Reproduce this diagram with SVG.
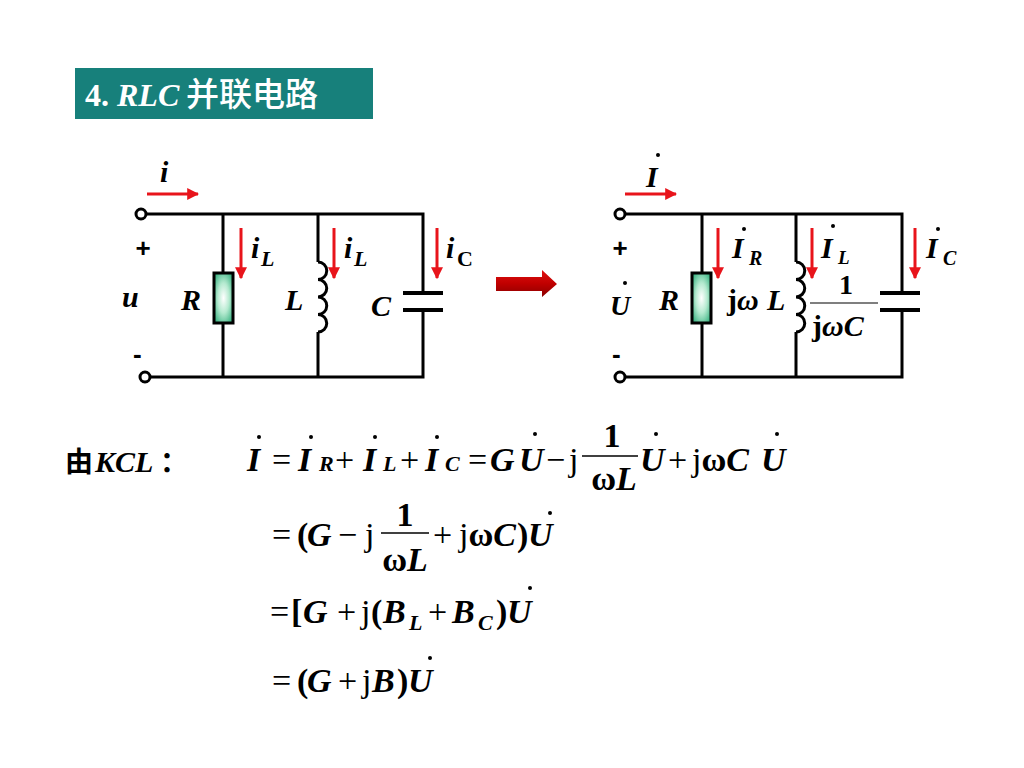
<svg xmlns="http://www.w3.org/2000/svg" width="1024" height="768" viewBox="0 0 1024 768">
<defs>
<radialGradient id="resg" cx="0.5" cy="0.5" r="0.6">
<stop offset="0" stop-color="#ffffff"/>
<stop offset="0.5" stop-color="#b5ead0"/>
<stop offset="1" stop-color="#3fb585"/>
</radialGradient>
<linearGradient id="arrg" x1="0" y1="0" x2="0" y2="1">
<stop offset="0" stop-color="#e01010"/>
<stop offset="0.5" stop-color="#c00000"/>
<stop offset="1" stop-color="#8a0000"/>
</linearGradient>
<marker id="rh" viewBox="0 0 10 10" refX="9" refY="5" markerWidth="4" markerHeight="4" orient="auto" markerUnits="strokeWidth">
<path d="M0,0 L10,5 L0,10 Z" fill="#e8141b"/>
</marker>
</defs>
<style>
.w{stroke:#000;stroke-width:3;fill:none}
.term{stroke:#000;stroke-width:3;fill:#fff}
.plate{stroke:#000;stroke-width:4}
.res{stroke:#000;stroke-width:3;fill:url(#resg)}
.ra{stroke:#e8141b;stroke-width:3;fill:none;marker-end:url(#rh)}
.v{font-family:"Liberation Serif",serif;font-weight:bold;font-style:italic}
.b{font-family:"Liberation Serif",serif;font-weight:bold}
.r{font-family:"Liberation Serif",serif;font-weight:normal}
.s{font-family:"Liberation Sans",sans-serif;font-weight:bold}
.cjk{font-family:"Noto Sans CJK SC",sans-serif}
.eq{font-size:34px}
.sub{font-size:22px}
.lab{font-size:30px}
.dot{fill:#000}
</style>
<rect width="1024" height="768" fill="#fff"/>

<g id="title">
<rect x="75" y="68" width="298" height="51" fill="#17807b"/>
<text x="85" y="106" fill="#fff" font-size="32"><tspan class="b">4.</tspan><tspan class="v" x="117">RLC</tspan><tspan class="cjk" x="186" font-size="33" font-weight="500">并联电路</tspan></text>
</g>

<g id="connectors">
<path class="w" d="M146,214 H423 V293"/>
<path class="w" d="M150,377 H423 V310"/>
<path class="w" d="M223,214 V273 M223,323 V377"/>
<path class="w" d="M318,214 V262 M318,332 V377"/>
<path class="w" d="M625,214 H902 V293"/>
<path class="w" d="M625,377 H902 V310"/>
<path class="w" d="M702,214 V273 M702,323 V377"/>
<path class="w" d="M796,214 V262 M796,332 V377"/>
</g>

<g id="left-terminals">
<circle class="term" cx="141" cy="214" r="5"/>
<circle class="term" cx="145" cy="377" r="5"/>
<text class="s" x="143" y="257" font-size="26" text-anchor="middle">+</text>
<text class="s" x="133" y="363" font-size="26">-</text>
<text class="v lab" x="122" y="307">u</text>
</g>
<g id="left-current">
<path class="ra" d="M147,194 H198"/>
<text class="v lab" x="160" y="182">i</text>
</g>
<g id="left-R">
<rect class="res" x="214" y="273" width="19" height="50"/>
<text class="v lab" x="181" y="310">R</text>
<path class="ra" d="M241,228 V278"/>
<text class="v lab" x="251" y="258">i</text><text class="v sub" x="261" y="266">L</text>
</g>
<g id="left-L">
<path class="w" d="M318,262 a8.75,8.75 0 0 1 0,17.5 a8.75,8.75 0 0 1 0,17.5 a8.75,8.75 0 0 1 0,17.5 a8.75,8.75 0 0 1 0,17.5"/>
<text class="v lab" x="285" y="310">L</text>
<path class="ra" d="M334,228 V278"/>
<text class="v lab" x="344" y="258">i</text><text class="v sub" x="354" y="266">L</text>
</g>
<g id="left-C">
<line class="plate" x1="403" y1="293" x2="443" y2="293"/>
<line class="plate" x1="403" y1="310" x2="443" y2="310"/>
<text class="v lab" x="371" y="316">C</text>
<path class="ra" d="M437,228 V278"/>
<text class="v lab" x="446" y="258">i</text><text class="b sub" x="457" y="266">C</text>
</g>

<g id="transform-arrow">
<polygon points="496,277 542,277 542,270 557,284 542,297 542,291 496,291" fill="url(#arrg)"/>
</g>

<g id="right-terminals">
<circle class="term" cx="620" cy="214" r="5"/>
<circle class="term" cx="620" cy="377" r="5"/>
<text class="s" x="620" y="257" font-size="26" text-anchor="middle">+</text>
<text class="s" x="612" y="363" font-size="26">-</text>
<text class="v" x="610" y="315" font-size="28">U</text>
<circle class="dot" cx="625" cy="283" r="2"/>
</g>
<g id="right-current">
<path class="ra" d="M625,194 H676"/>
<text class="v lab" x="646" y="187">I</text>
<circle class="dot" cx="658" cy="155" r="2"/>
</g>
<g id="right-R">
<rect class="res" x="692" y="273" width="19" height="50"/>
<text class="v lab" x="659" y="310">R</text>
<path class="ra" d="M718,228 V278"/>
<text class="v lab" x="732" y="258">I</text><text class="v" x="749" y="265" font-size="20">R</text>
<circle class="dot" cx="744" cy="229" r="2"/>
</g>
<g id="right-L">
<path class="w" d="M796,262 a8.75,8.75 0 0 1 0,17.5 a8.75,8.75 0 0 1 0,17.5 a8.75,8.75 0 0 1 0,17.5 a8.75,8.75 0 0 1 0,17.5"/>
<text class="lab" x="727" y="310"><tspan class="b">j</tspan><tspan class="v">ω</tspan><tspan class="v" x="767">L</tspan></text>
<path class="ra" d="M812,228 V278"/>
<text class="v lab" x="821" y="258">I</text><text class="v" x="838" y="264" font-size="19">L</text>
<circle class="dot" cx="833" cy="226" r="2"/>
</g>
<g id="right-C">
<line class="plate" x1="880" y1="293" x2="920" y2="293"/>
<line class="plate" x1="880" y1="310" x2="920" y2="310"/>
<text class="b" x="846" y="294" font-size="28" text-anchor="middle">1</text>
<line x1="810" y1="303" x2="878" y2="303" stroke="#000" stroke-width="1.2"/>
<text class="lab" x="812" y="336"><tspan class="b">j</tspan><tspan class="v">ωC</tspan></text>
<path class="ra" d="M915,228 V278"/>
<text class="v lab" x="926" y="258">I</text><text class="v" x="943" y="265" font-size="20">C</text>
<circle class="dot" cx="938" cy="229" r="2"/>
</g>

<g id="kcl-label">
<text x="65" y="472" font-size="30"><tspan class="cjk" font-weight="bold" font-size="28">由</tspan><tspan class="v" x="95">KCL</tspan><tspan class="cjk" x="160" font-weight="bold" font-size="28">：</tspan></text>
</g>

<g id="eq1" class="eq">
<text class="v" x="247" y="471">I</text>
<text class="r" x="272" y="471">=</text>
<text class="v" x="298" y="471">I</text><text class="v sub" x="319" y="471">R</text>
<text class="r" x="335" y="471">+</text>
<text class="v" x="363" y="471">I</text><text class="v sub" x="383" y="471">L</text>
<text class="r" x="400" y="471">+</text>
<text class="v" x="425" y="471">I</text><text class="v sub" x="445" y="471">C</text>
<text class="r" x="468" y="471">=</text>
<text class="v" x="490" y="471">G</text>
<text class="v" x="519" y="471">U</text>
<text class="r" x="546" y="471">−</text>
<text class="r" x="569" y="471">j</text>
<text class="b" x="612" y="447" text-anchor="middle">1</text>
<line x1="582" y1="456" x2="638" y2="456" stroke="#000" stroke-width="1.5"/>
<text x="614" y="490" text-anchor="middle"><tspan class="b">ω</tspan><tspan class="v">L</tspan></text>
<text class="v" x="640" y="471">U</text>
<text class="r" x="668" y="471">+</text>
<text x="692" y="471"><tspan class="r">j</tspan><tspan class="b">ω</tspan><tspan class="v">C</tspan></text>
<text class="v" x="761" y="471">U</text>
<circle class="dot" cx="259" cy="437" r="2"/>
<circle class="dot" cx="311" cy="437" r="2"/>
<circle class="dot" cx="375" cy="437" r="2"/>
<circle class="dot" cx="437" cy="437" r="2"/>
<circle class="dot" cx="535" cy="434" r="2"/>
<circle class="dot" cx="656" cy="434" r="2"/>
<circle class="dot" cx="777" cy="434" r="2"/>
</g>

<g id="eq2" class="eq">
<text class="r" x="272" y="546">=</text>
<text class="b" x="297" y="546">(</text>
<text class="v" x="307" y="546">G</text>
<text class="r" x="338" y="546">−</text>
<text class="r" x="365" y="546">j</text>
<text class="b" x="405" y="526" text-anchor="middle">1</text>
<line x1="381" y1="533" x2="429" y2="533" stroke="#000" stroke-width="1.5"/>
<text x="405" y="571" text-anchor="middle"><tspan class="b">ω</tspan><tspan class="v">L</tspan></text>
<text class="r" x="433" y="546">+</text>
<text x="459" y="546"><tspan class="r">j</tspan><tspan class="b">ω</tspan><tspan class="v">C</tspan></text>
<text class="b" x="517" y="546">)</text>
<text class="v" x="528" y="546">U</text>
<circle class="dot" cx="550" cy="513" r="2"/>
</g>

<g id="eq3" class="eq">
<text class="r" x="270" y="623">=</text>
<text class="b" x="291" y="623">[</text>
<text class="v" x="303" y="623">G</text>
<text class="r" x="337" y="623">+</text>
<text class="r" x="361" y="623">j</text>
<text class="b" x="371" y="623">(</text>
<text class="v" x="383" y="623">B</text><text class="v sub" x="409" y="630">L</text>
<text class="r" x="428" y="623">+</text>
<text class="v" x="452" y="623">B</text><text class="v sub" x="478" y="630">C</text>
<text class="b" x="496" y="623">)</text>
<text class="v" x="507" y="623">U</text>
<circle class="dot" cx="530" cy="588" r="2"/>
</g>

<g id="eq4" class="eq">
<text class="r" x="272" y="692">=</text>
<text class="b" x="297" y="692">(</text>
<text class="v" x="307" y="692">G</text>
<text class="r" x="338" y="692">+</text>
<text class="r" x="362" y="692">j</text>
<text class="v" x="372" y="692">B</text>
<text class="b" x="397" y="692">)</text>
<text class="v" x="408" y="692">U</text>
<circle class="dot" cx="430" cy="658" r="2"/>
</g>
</svg>
